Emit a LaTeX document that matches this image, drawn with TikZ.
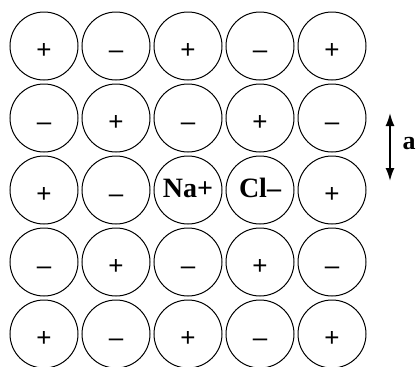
\documentclass[tikz,border=0pt]{standalone}
\usepackage{fontspec}
\setmainfont{Liberation Serif}
\newfontfamily\signfont{Liberation Sans}
\usetikzlibrary{arrows.meta}
\tikzset{
  ionnode/.style={draw=black,circle,line width=1pt,minimum size=68pt,
    inner sep=0pt},
  cation/.style={ionnode,font=\fontsize{26}{28}\selectfont\signfont,
    text height=24pt,text depth=0pt},
  anion/.style={ionnode,font=\fontsize{26}{28}\selectfont\signfont,
    text height=24pt,text depth=0pt},
  named/.style={ionnode,font=\fontsize{28}{30}\selectfont\bfseries,
    text height=14pt,text depth=0pt},
  spacing/.style={line width=1.8pt,{Latex[length=13pt,width=9pt]}-{Latex[length=13pt,width=9pt]}},
}
\begin{document}
\begin{tikzpicture}[x=1pt,y=-1pt]
  \useasboundingbox (0,0) rectangle (416,367);
  % row 1
  \node[cation] (r1c1) at (44,46) {+};
  \node[anion] (r1c2) at (116,46) {\textendash};
  \node[cation] (r1c3) at (188,46) {+};
  \node[anion] (r1c4) at (260,46) {\textendash};
  \node[cation] (r1c5) at (332,46) {+};
  % row 2
  \node[anion] (r2c1) at (44,118) {\textendash};
  \node[cation] (r2c2) at (116,118) {+};
  \node[anion] (r2c3) at (188,118) {\textendash};
  \node[cation] (r2c4) at (260,118) {+};
  \node[anion] (r2c5) at (332,118) {\textendash};
  % row 3
  \node[cation] (r3c1) at (44,190) {+};
  \node[anion] (r3c2) at (116,190) {\textendash};
  \node[named] (na) at (188,190) {Na+};
  \node[named] (cl) at (260,190) {Cl\textendash};
  \node[cation] (r3c5) at (332,190) {+};
  % row 4
  \node[anion] (r4c1) at (44,262) {\textendash};
  \node[cation] (r4c2) at (116,262) {+};
  \node[anion] (r4c3) at (188,262) {\textendash};
  \node[cation] (r4c4) at (260,262) {+};
  \node[anion] (r4c5) at (332,262) {\textendash};
  % row 5
  \node[cation] (r5c1) at (44,334) {+};
  \node[anion] (r5c2) at (116,334) {\textendash};
  \node[cation] (r5c3) at (188,334) {+};
  \node[anion] (r5c4) at (260,334) {\textendash};
  \node[cation] (r5c5) at (332,334) {+};
  % lattice spacing
  \coordinate (aTop) at (390,113);
  \coordinate (aBot) at (390,181);
  \draw[spacing] (aTop) -- (aBot);
  \node[font=\fontsize{26}{28}\selectfont\bfseries,text depth=0pt] (alab) at (409,143) {a};
\end{tikzpicture}
\end{document}
